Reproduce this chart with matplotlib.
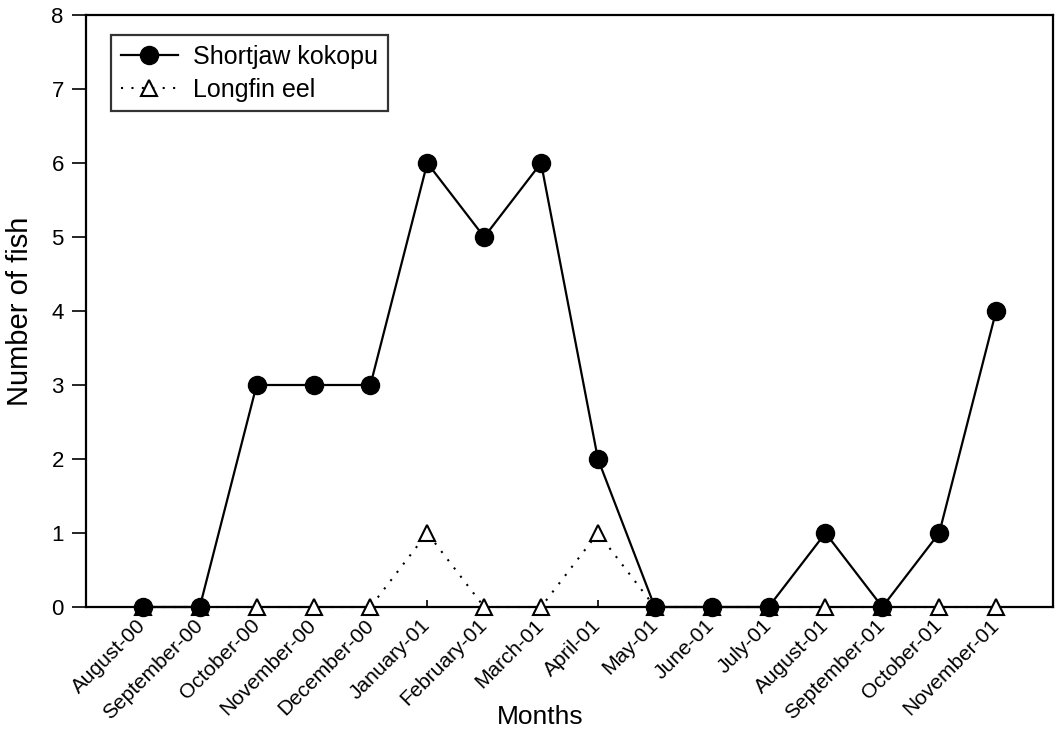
import matplotlib
matplotlib.use("Agg")
import matplotlib.pyplot as plt

months = ["August-00", "September-00", "October-00", "November-00", "December-00",
          "January-01", "February-01", "March-01", "April-01", "May-01", "June-01",
          "July-01", "August-01", "September-01", "October-01", "November-01"]
shortjaw_kokopu = [0, 0, 3, 3, 3, 6, 5, 6, 2, 0, 0, 0, 1, 0, 1, 4]
longfin_eel = [0, 0, 0, 0, 0, 1, 0, 0, 1, 0, 0, 0, 0, 0, 0, 0]

plt.rcParams["font.family"] = ["Liberation Sans", "DejaVu Sans"]

fig = plt.figure(figsize=(10.56, 7.32), dpi=100)
ax = fig.add_axes([86 / 1056, 1 - 607 / 732, (1053 - 86) / 1056, (607 - 15) / 732])

x = list(range(len(months)))

ax.plot(x, longfin_eel, linestyle=(0, (1, 4)), color="black", linewidth=1.5,
        marker="^", markersize=11, markerfacecolor="white", markeredgecolor="black",
        markeredgewidth=1.5, label="Longfin eel", zorder=2.6, clip_on=False)
ax.plot(x, shortjaw_kokopu, linestyle="-", color="black", linewidth=1.6,
        marker="o", markersize=13, markerfacecolor="black", markeredgecolor="black",
        label="Shortjaw kokopu", zorder=3, clip_on=False)

ax.set_xlim(-1, len(months))
ax.set_ylim(0, 8)
ax.set_yticks(range(0, 9))
ax.set_xticks(x)
ax.set_xticklabels(months, rotation=45, ha="right", va="center",
                   rotation_mode="anchor", fontsize=15)
ax.tick_params(axis="x", direction="in", length=5, width=1.2, pad=11)
ax.tick_params(axis="y", direction="out", length=10, width=1.2, labelsize=16, pad=6)

for s in ax.spines.values():
    s.set_linewidth(1.6)
    s.set_color("black")

ax.set_ylabel("Number of fish", fontsize=21)
ax.yaxis.set_label_coords(-0.054, 0.5)
ax.set_xlabel("Months", fontsize=19)
ax.xaxis.set_label_coords(0.47, -0.165)

handles, labels = ax.get_legend_handles_labels()
leg = ax.legend(handles[::-1], labels[::-1], loc="upper left",
                bbox_to_anchor=(0.026, 0.966), fontsize=18, frameon=True,
                fancybox=False, edgecolor="black", handlelength=2.3,
                handletextpad=0.6, borderpad=0.38, labelspacing=0.37,
                borderaxespad=0)
leg.get_frame().set_linewidth(1.6)

fig.savefig("out.png", dpi=100)
